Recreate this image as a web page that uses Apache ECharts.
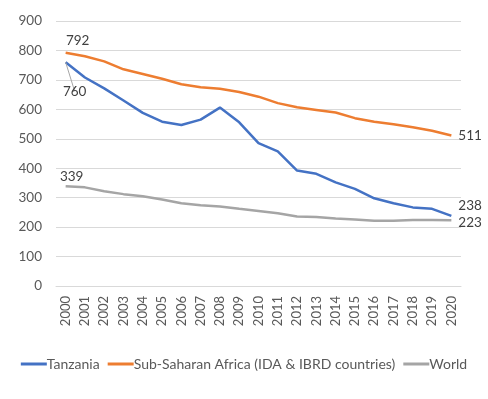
<!DOCTYPE html>
<html>
<head>
<meta charset="utf-8">
<script src="https://cdn.jsdelivr.net/npm/echarts@6/dist/echarts.min.js"></script>
<style>
  html, body { margin: 0; padding: 0; background: #fff; }
  #chart { width: 488px; height: 399px; }
</style>
</head>
<body>
<div id="chart"></div>
<script>
const years = ["2000", "2001", "2002", "2003", "2004", "2005", "2006", "2007", "2008", "2009", "2010",
  "2011", "2012", "2013", "2014", "2015", "2016", "2017", "2018", "2019", "2020"];
const tanzania = [760, 708, 671, 630, 588, 558, 547, 565, 606, 556, 485, 457, 392, 381, 352, 330, 298, 281, 267, 262, 238];
const ssa = [792, 780, 763, 736, 720, 704, 685, 675, 670, 659, 643, 621, 607, 598, 589, 570, 558, 549, 539, 527, 511];
const world = [339, 335, 322, 312, 305, 294, 281, 274, 270, 262, 255, 247, 236, 234, 229, 226, 222, 222, 224, 224, 223];

const chart = echarts.init(document.getElementById("chart"));
const font = "Lato";
const lblColor = "#404040";

// first/last point labels only
function endLabels(arr, firstPos, lastPos, firstLine) {
  return arr.map((v, i) => {
    if (i === 0) {
      const item = { value: v, label: Object.assign({ show: true }, firstPos) };
      if (firstLine) item.labelLine = { show: true, lineStyle: { color: "#a6a6a6", width: 1 } };
      return item;
    }
    if (i === arr.length - 1) return { value: v, label: Object.assign({ show: true }, lastPos) };
    return v;
  });
}

chart.setOption({
  animation: false,
  textStyle: { fontFamily: font },
  grid: { left: 56, right: 27, top: 21, bottom: 113 },
  legend: {
    bottom: 23,
    left: "center",
    icon: "rect",
    itemWidth: 26,
    itemHeight: 3,
    itemGap: 8,
    selectedMode: false,
    textStyle: { color: "#595959", fontSize: 14, fontFamily: font, padding: [0, 0, 0, -5] },
    data: ["Tanzania", "Sub-Saharan Africa (IDA & IBRD countries)", "World"]
  },
  xAxis: {
    type: "category",
    data: years,
    boundaryGap: true,
    axisLine: { lineStyle: { color: "#d9d9d9" } },
    axisTick: { show: false },
    axisLabel: { rotate: 90, color: "#595959", fontSize: 13, interval: 0, margin: 10 }
  },
  yAxis: {
    type: "value",
    min: 0,
    max: 900,
    interval: 100,
    axisLine: { show: false },
    axisTick: { show: false },
    axisLabel: { color: "#595959", fontSize: 13.5, margin: 14 },
    splitLine: { lineStyle: { color: "#d9d9d9", width: 1 } }
  },
  series: [
    {
      name: "Tanzania",
      type: "line",
      data: endLabels(tanzania,
        { position: "bottom", offset: [9, 17] },
        { position: "right", offset: [2, -10] }, true),
      symbol: "circle",
      symbolSize: 0,
      showSymbol: true,
      lineStyle: { color: "#4472c4", width: 2.5 },
      itemStyle: { color: "#4472c4" },
      label: { color: lblColor, fontSize: 13.5 }
    },
    {
      name: "Sub-Saharan Africa (IDA & IBRD countries)",
      type: "line",
      data: endLabels(ssa,
        { position: "top", offset: [12, 0] },
        { position: "right", offset: [2, 0] }),
      symbol: "circle",
      symbolSize: 0,
      showSymbol: true,
      lineStyle: { color: "#ed7d31", width: 2.5 },
      itemStyle: { color: "#ed7d31" },
      label: { color: lblColor, fontSize: 13.5 }
    },
    {
      name: "World",
      type: "line",
      data: endLabels(world,
        { position: "top", offset: [6, 2] },
        { position: "right", offset: [2, 2] }),
      symbol: "circle",
      symbolSize: 0,
      showSymbol: true,
      lineStyle: { color: "#a5a5a5", width: 2.5 },
      itemStyle: { color: "#a5a5a5" },
      label: { color: lblColor, fontSize: 13.5 }
    }
  ]
});
</script>
</body>
</html>
